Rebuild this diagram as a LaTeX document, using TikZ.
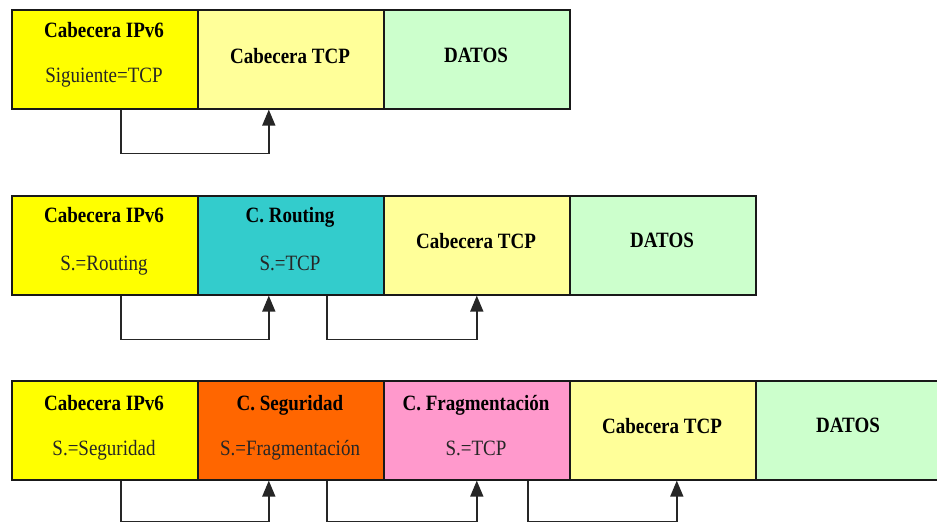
\documentclass[tikz,border=0pt]{standalone}
\usepackage{fontspec}
\setmainfont{LiberationSerif}[Extension=.ttf, UprightFont=*-Regular, BoldFont=*-Bold, ItalicFont=*-Italic, BoldItalicFont=*-BoldItalic]
\usetikzlibrary{arrows.meta}
\definecolor{cyel}{HTML}{FFFF00}
\definecolor{cly}{HTML}{FFFF99}
\definecolor{cgr}{HTML}{CCFFCC}
\definecolor{cteal}{HTML}{33CCCC}
\definecolor{corg}{HTML}{FF6600}
\definecolor{cpink}{HTML}{FF99CC}
\begin{document}
\begin{tikzpicture}[x=1pt,y=-1pt,
  box/.style={draw=black!90, line width=1.6pt, minimum width=186pt, minimum height=99pt, inner sep=0pt, anchor=north west},
  ttl/.style={font=\fontsize{19}{22}\selectfont\bfseries, inner sep=0pt, anchor=base, yscale=1.15},
  sub/.style={font=\fontsize{19}{22}\selectfont, text=black!85, inner sep=0pt, anchor=base, yscale=1.15},
  link/.style={draw=black!85, line width=1.5pt, -{Triangle[length=16pt,width=13pt]}}]
\useasboundingbox (0,0) rectangle (937,522);
\clip (0,0) rectangle (937,522);
% Row 1
\node[box,fill=cyel] (r1a) at (11,9) {};
\node[box,fill=cly] (r1b) at (197,9) {};
\node[box,fill=cgr] (r1c) at (383,9) {};
\node[ttl] (t1a) at (104,37) {Cabecera IPv6};
\node[sub] (s1a) at (104,82) {Siguiente=TCP};
\node[ttl] (t1b) at (290,63) {Cabecera TCP};
\node[ttl] (t1c) at (476,62) {DATOS};
\draw[link] ([xshift=16pt]r1a.south) -- ++(0,44) -| ([xshift=-22pt]r1b.south);
% Row 2
\node[box,fill=cyel] (r2a) at (11,195) {};
\node[box,fill=cteal] (r2b) at (197,195) {};
\node[box,fill=cly] (r2c) at (383,195) {};
\node[box,fill=cgr] (r2d) at (569,195) {};
\node[ttl] (t2a) at (104,222) {Cabecera IPv6};
\node[sub] (s2a) at (104,270) {S.=Routing};
\node[ttl] (t2b) at (290,222) {C. Routing};
\node[sub] (s2b) at (290,270) {S.=TCP};
\node[ttl] (t2c) at (476,248) {Cabecera TCP};
\node[ttl] (t2d) at (662,247) {DATOS};
\draw[link] ([xshift=16pt]r2a.south) -- ++(0,44) -| ([xshift=-22pt]r2b.south);
\draw[link] ([xshift=36pt]r2b.south) -- ++(0,44) -| (r2c.south);
% Row 3
\node[box,fill=cyel] (r3a) at (11,380) {};
\node[box,fill=corg] (r3b) at (197,380) {};
\node[box,fill=cpink] (r3c) at (383,380) {};
\node[box,fill=cly] (r3d) at (569,380) {};
\node[box,fill=cgr] (r3e) at (755,380) {};
\node[ttl] (t3a) at (104,410) {Cabecera IPv6};
\node[sub] (s3a) at (104,455) {S.=Seguridad};
\node[ttl] (t3b) at (290,410) {C. Seguridad};
\node[sub] (s3b) at (290,455) {S.=Fragmentación};
\node[ttl] (t3c) at (476,410) {C. Fragmentación};
\node[sub] (s3c) at (476,455) {S.=TCP};
\node[ttl] (t3d) at (662,433) {Cabecera TCP};
\node[ttl] (t3e) at (848,432) {DATOS};
\draw[link] ([xshift=16pt]r3a.south) -- ++(0,41) -| ([xshift=-22pt]r3b.south);
\draw[link] ([xshift=36pt]r3b.south) -- ++(0,41) -| (r3c.south);
\draw[link] ([xshift=51pt]r3c.south) -- ++(0,41) -| ([xshift=14pt]r3d.south);
\end{tikzpicture}
\end{document}
